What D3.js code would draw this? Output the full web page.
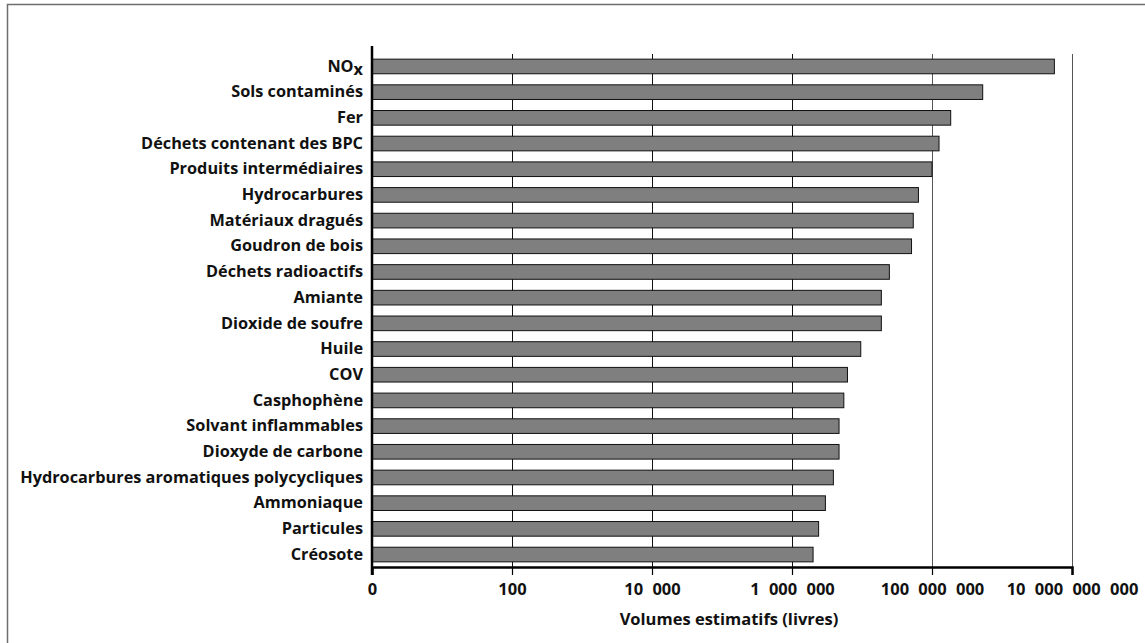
<!DOCTYPE html>
<html><head><meta charset="utf-8">
<script src="https://cdn.jsdelivr.net/npm/d3@7"></script>
<style>body{margin:0;background:#fff}svg{display:block}text{font-family:"Open Sans",sans-serif;font-weight:700;fill:#111}</style>
</head><body>
<script>
const categories = ["NOx","Sols contaminés","Fer","Déchets contenant des BPC","Produits intermédiaires","Hydrocarbures","Matériaux dragués","Goudron de bois","Déchets radioactifs","Amiante","Dioxide de soufre","Huile","COV","Casphophène","Solvant inflammables","Dioxyde de carbone","Hydrocarbures aromatiques polycycliques","Ammoniaque","Particules","Créosote"];
const values = [5.6e9,5.3e8,1.85e8,1.26e8,1.0e8,6.4e7,5.4e7,5.1e7,2.46e7,1.89e7,1.89e7,9.6e6,6.2e6,5.5e6,4.7e6,4.7e6,3.9e6,3.0e6,2.4e6,2.0e6];
const tickValues = [1,1e2,1e4,1e6,1e8,1e10];
const tickLabels = ["0","100","10 000","1 000 000","100 000 000","10 000 000 000"];
const axisTitle = "Volumes estimatifs (livres)";

const W=1145,H=643;
const m={left:372,right:1072,top:54,bottom:567};
const svg=d3.select("body").append("svg").attr("width",W).attr("height",H);
svg.append("rect").attr("x",7.5).attr("y",4.5).attr("width",W).attr("height",H).attr("fill","none").attr("stroke","#6e6e6e").attr("stroke-width",1.5);

const x=d3.scaleLog().domain([1,1e10]).range([m.left,m.right]);
const y=d3.scaleBand().domain(categories).range([m.top,m.bottom]).paddingInner(0.43).paddingOuter(0.2);

// gridlines
svg.append("g").selectAll("line").data(tickValues.slice(1)).join("line")
 .attr("x1",d=>Math.round(x(d))+0.5).attr("x2",d=>Math.round(x(d))+0.5)
 .attr("y1",m.top).attr("y2",m.bottom)
 .attr("stroke",(d,i)=>i<3?"#111":"#555").attr("stroke-width",1);

// bars
svg.append("g").selectAll("rect").data(categories).join("rect")
 .attr("x",m.left).attr("y",d=>y(d))
 .attr("width",(d,i)=>x(values[i])-m.left).attr("height",y.bandwidth())
 .attr("fill","#7f7f7f").attr("stroke","#111").attr("stroke-width",1);

// x axis
const xa=d3.axisBottom(x).tickValues(tickValues).tickSize(8).tickFormat((d,i)=>tickLabels[i]);
const gx=svg.append("g").attr("transform",`translate(0,${m.bottom})`).call(xa);
gx.select(".domain").attr("stroke","#000").attr("stroke-width",2.5);
gx.selectAll(".tick line").attr("stroke","#000").attr("stroke-width",1.2);
gx.selectAll(".tick text").attr("font-size",16.5).attr("y",28).attr("dy",0).attr("word-spacing","5px")
 .attr("font-family","Open Sans").attr("font-weight",700).attr("fill","#111");

// y axis
const ya=d3.axisLeft(y).tickSize(0).tickPadding(9).tickFormat(d=>d==="NOx"?"":d);
const gy=svg.append("g").attr("transform",`translate(${m.left},0)`).call(ya);
gy.select(".domain").remove();
gy.selectAll(".tick text").attr("font-size",16.3).attr("font-family","Open Sans").attr("font-weight",700).attr("fill","#111");
gy.selectAll(".tick").filter(d=>d==="NOx").select("text").text(null)
 .call(t=>{t.append("tspan").text("NO");t.append("tspan").attr("dy",3).text("x");});
svg.append("line").attr("x1",m.left).attr("x2",m.left).attr("y1",46).attr("y2",m.bottom+8).attr("stroke","#000").attr("stroke-width",2.5);

svg.append("text").attr("x",729).attr("y",625).attr("text-anchor","middle").attr("font-size",16.5).text(axisTitle);
</script>
</body></html>
